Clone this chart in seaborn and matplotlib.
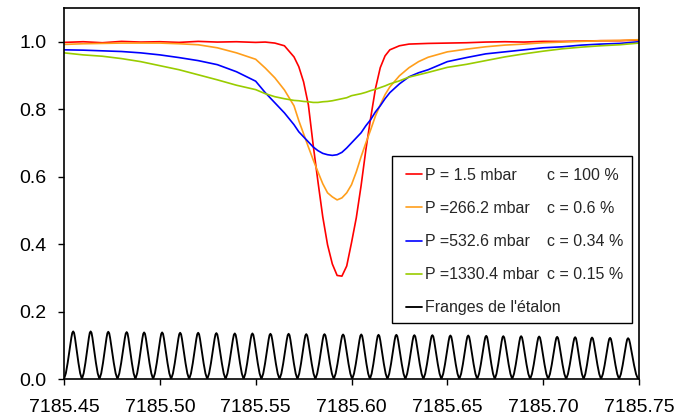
import numpy as np
import pandas as pd
import matplotlib
matplotlib.use("Agg")
import matplotlib.pyplot as plt
from matplotlib.patches import Rectangle
import seaborn as sns

# Wavelength grid (nm), finer around the absorption line
wavelength = [7185.45, 7185.46, 7185.47, 7185.48, 7185.49, 7185.50, 7185.51, 7185.52,
              7185.53, 7185.54, 7185.55, 7185.555, 7185.56, 7185.565, 7185.57, 7185.5725,
              7185.575, 7185.5775, 7185.58, 7185.5825, 7185.585, 7185.5875, 7185.59,
              7185.5925, 7185.595, 7185.5975, 7185.60, 7185.6025, 7185.605, 7185.6075,
              7185.61, 7185.6125, 7185.615, 7185.6175, 7185.62, 7185.625, 7185.63,
              7185.635, 7185.64, 7185.65, 7185.66, 7185.67, 7185.68, 7185.69, 7185.70,
              7185.71, 7185.72, 7185.73, 7185.74, 7185.75]

# Normalised transmission for each pressure / concentration
trans_p1_5 = [0.998, 1.000, 0.997, 1.001, 0.999, 1.000, 0.998, 1.001, 0.999, 1.000,
              0.998, 0.999, 0.996, 0.988, 0.955, 0.926, 0.881, 0.813, 0.694, 0.585,
              0.481, 0.398, 0.341, 0.307, 0.305, 0.335, 0.404, 0.478, 0.573, 0.680,
              0.774, 0.861, 0.923, 0.958, 0.976, 0.988, 0.993, 0.994, 0.995, 0.996,
              0.997, 0.999, 1.000, 0.999, 1.001, 1.001, 1.002, 1.003, 1.003, 1.005]
trans_p266 = [0.992, 0.994, 0.995, 0.996, 0.996, 0.996, 0.994, 0.991, 0.982, 0.967,
              0.948, 0.922, 0.893, 0.857, 0.810, 0.766, 0.727, 0.688, 0.650, 0.614,
              0.579, 0.552, 0.540, 0.531, 0.537, 0.552, 0.576, 0.614, 0.659, 0.700,
              0.739, 0.780, 0.813, 0.843, 0.866, 0.899, 0.923, 0.941, 0.954, 0.970,
              0.978, 0.985, 0.990, 0.993, 0.997, 0.999, 1.001, 1.003, 1.004, 1.006]
trans_p532 = [0.976, 0.975, 0.973, 0.971, 0.967, 0.961, 0.953, 0.944, 0.932, 0.911,
              0.883, 0.849, 0.819, 0.789, 0.754, 0.733, 0.718, 0.703, 0.688, 0.677,
              0.669, 0.665, 0.663, 0.665, 0.672, 0.685, 0.700, 0.715, 0.730, 0.751,
              0.769, 0.792, 0.810, 0.831, 0.849, 0.875, 0.896, 0.908, 0.917, 0.941,
              0.953, 0.964, 0.970, 0.976, 0.982, 0.985, 0.990, 0.993, 0.995, 1.000]
trans_p1330 = [0.967, 0.961, 0.957, 0.950, 0.941, 0.929, 0.917, 0.902, 0.887, 0.871,
               0.858, 0.846, 0.837, 0.831, 0.826, 0.825, 0.823, 0.822, 0.820, 0.820,
               0.822, 0.823, 0.825, 0.828, 0.831, 0.834, 0.840, 0.843, 0.846, 0.850,
               0.855, 0.859, 0.864, 0.869, 0.875, 0.884, 0.895, 0.902, 0.909, 0.924,
               0.933, 0.944, 0.955, 0.964, 0.972, 0.979, 0.984, 0.988, 0.991, 0.996]

# Etalon fringes: peak positions and peak heights
fringe_peaks = [7185.4548, 7185.4639, 7185.4731, 7185.4827, 7185.4918, 7185.5012,
                7185.5106, 7185.5200, 7185.5295, 7185.5391, 7185.5483, 7185.5577,
                7185.5672, 7185.5764, 7185.5859, 7185.5956, 7185.6051, 7185.6141,
                7185.6234, 7185.6328, 7185.6422, 7185.6516, 7185.6609, 7185.6703,
                7185.6792, 7185.6885, 7185.6979, 7185.7073, 7185.7167, 7185.7255,
                7185.7349, 7185.7443]
fringe_heights = [0.141, 0.141, 0.140, 0.139, 0.138, 0.138, 0.137, 0.137, 0.136, 0.135,
                  0.135, 0.134, 0.134, 0.133, 0.133, 0.132, 0.132, 0.131, 0.131, 0.130,
                  0.130, 0.129, 0.129, 0.128, 0.127, 0.127, 0.126, 0.125, 0.124, 0.123,
                  0.122, 0.121]
# Shape of one fringe flank, from trough (0) to peak (1)
flank_pos = [0.0, 0.2, 0.4, 0.6, 0.8, 0.9, 1.0]
flank_val = [0.0, 0.12, 0.34, 0.61, 0.87, 0.97, 1.0]

labels_p = ["P = 1.5 mbar", "P =266.2 mbar", "P =532.6 mbar", "P =1330.4 mbar",
            "Franges de l'étalon"]
labels_c = ["c = 100 %", "c = 0.6 %", "c = 0.34 %", "c = 0.15 %"]
colors = ["#FF0000", "#FF9E1B", "#0000FF", "#99CC00", "#000000"]

xticks = [7185.45, 7185.50, 7185.55, 7185.60, 7185.65, 7185.70, 7185.75]
xtick_labels = ["7185.45", "7185.50", "7185.55", "7185.60", "7185.65", "7185.70", "7185.75"]
yticks = [0.0, 0.2, 0.4, 0.6, 0.8, 1.0]
ytick_labels = ["0.0", "0.2", "0.4", "0.6", "0.8", "1.0"]

# Build the fringe trace from the peak list
troughs = [7185.45] + [(a + b) / 2 for a, b in zip(fringe_peaks[:-1], fringe_peaks[1:])] + [7185.7495]
fx, fy = [], []
for i, (pk, h) in enumerate(zip(fringe_peaks, fringe_heights)):
    lo, hi = troughs[i], troughs[i + 1]
    start = 0 if i == 0 else 1
    for f, v in list(zip(flank_pos, flank_val))[start:]:
        fx.append(lo + f * (pk - lo)); fy.append(v * h)
    for f, v in list(zip(flank_pos, flank_val))[::-1][1:]:
        fx.append(hi - f * (hi - pk)); fy.append(v * h)
fringes = pd.DataFrame({"wl": fx, "T": fy})

spectra = pd.DataFrame({"wl": wavelength, "s0": trans_p1_5, "s1": trans_p266,
                        "s2": trans_p532, "s3": trans_p1330})

sns.set_theme(style="ticks")
plt.rcParams["font.family"] = ["Liberation Sans", "DejaVu Sans"]

fig = plt.figure(figsize=(6.87, 4.18), dpi=100)
ax = fig.add_axes([64 / 687, 39 / 418, 575 / 687, 371 / 418])

for k, col in enumerate(["s0", "s1", "s2", "s3"]):
    sns.lineplot(data=spectra, x="wl", y=col, ax=ax, color=colors[k], lw=1.2,
                 estimator=None, sort=False)
sns.lineplot(data=fringes, x="wl", y="T", ax=ax, color=colors[4], lw=1.35,
             estimator=None, sort=False)
for line, lab in zip(ax.get_lines(), labels_p):
    line.set_label(lab)

ax.set_xlim(7185.45, 7185.75)
ax.set_ylim(0, 1.1)
ax.set_xticks(xticks)
ax.set_xticklabels(xtick_labels)
ax.set_yticks(yticks)
ax.set_yticklabels(ytick_labels)
ax.set_xlabel("")
ax.set_ylabel("")
ax.tick_params(axis="x", direction="out", length=4, width=1, pad=10.5, labelsize=14,
               colors="black", top=False)
ax.tick_params(axis="y", direction="out", length=4.5, width=1, pad=8, labelsize=14,
               colors="black", right=False)
for sp in ax.spines.values():
    sp.set_color("black")
    sp.set_linewidth(1.2)

# Legend box
ax.add_patch(Rectangle(((392 - 64) / 575, (379 - 323) / 371), (632 - 392) / 575,
                       (323 - 156) / 371, transform=ax.transAxes, fill=True,
                       facecolor="white", edgecolor="black", lw=1.0, zorder=4))
leg = ax.legend(loc="upper left", bbox_to_anchor=((406 - 64) / 575, (379 - 168) / 371),
                borderaxespad=0, borderpad=0, frameon=False, fontsize=11.5,
                handlelength=1.0, handletextpad=0.2, labelspacing=1.13)
leg.set_zorder(5)
for t, lab in zip(leg.get_texts()[:4], labels_c):
    ax.annotate(lab, xy=(0, 0), xycoords=t, xytext=(88, 0), textcoords="offset points",
                fontsize=11.5, va="bottom", ha="left", zorder=6)

fig.savefig("out.png", dpi=100)
